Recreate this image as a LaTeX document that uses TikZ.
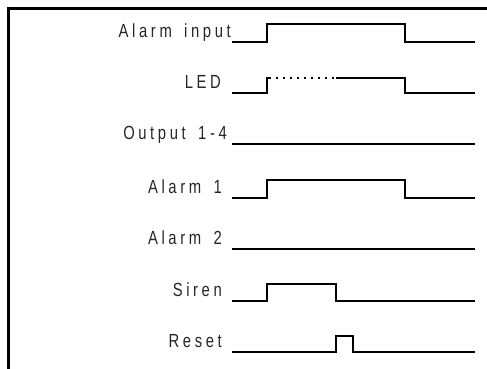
\documentclass[tikz,border=0pt]{standalone}
\usepackage{fontspec}
\newfontfamily\sigfont[LetterSpace=19,FakeStretch=0.78,WordSpace=1.6]{Liberation Sans}
\begin{document}
\begin{tikzpicture}[x=1pt, y=-1pt,
  sig/.style={line width=2.2pt},
  dots/.style={line width=2pt, dash pattern=on 2pt off 5pt},
  lbl/.style={anchor=base east, inner sep=0pt, text=black!85,
    font=\sigfont\fontsize{19}{19}\selectfont}]
\useasboundingbox (0,0) rectangle (487,368);
\draw[line width=3pt] (8,372) -- (8,8) -- (492,8);
% labels
\node[lbl] (ain) at (231,37) {Alarm input};
\node[lbl] (led) at (221,88) {LED};
\node[lbl] (out) at (227,139) {Output 1-4};
\node[lbl] (al1) at (222,193) {Alarm 1};
\node[lbl] (al2) at (222,244) {Alarm 2};
\node[lbl] (sir) at (222,296) {Siren};
\node[lbl] (rst) at (222,347) {Reset};
% waveforms
\draw[sig] (232,42) -- (267,42) -- (267,24) -- (405,24) -- (405,42) -- (475,42);
\draw[sig] (232,93) -- (267,93) -- (267,78) -- (271,78);
\draw[dots] (276,78) -- (334,78);
\draw[sig] (336,78) -- (405,78) -- (405,93) -- (475,93);
\draw[sig] (232,144) -- (475,144);
\draw[sig] (232,198) -- (267,198) -- (267,180) -- (405,180) -- (405,198) -- (475,198);
\draw[sig] (232,249) -- (475,249);
\draw[sig] (232,301) -- (267,301) -- (267,284) -- (336,284) -- (336,301) -- (475,301);
\draw[sig] (232,352) -- (336,352) -- (336,336) -- (353,336) -- (353,352) -- (475,352);
\end{tikzpicture}
\end{document}
